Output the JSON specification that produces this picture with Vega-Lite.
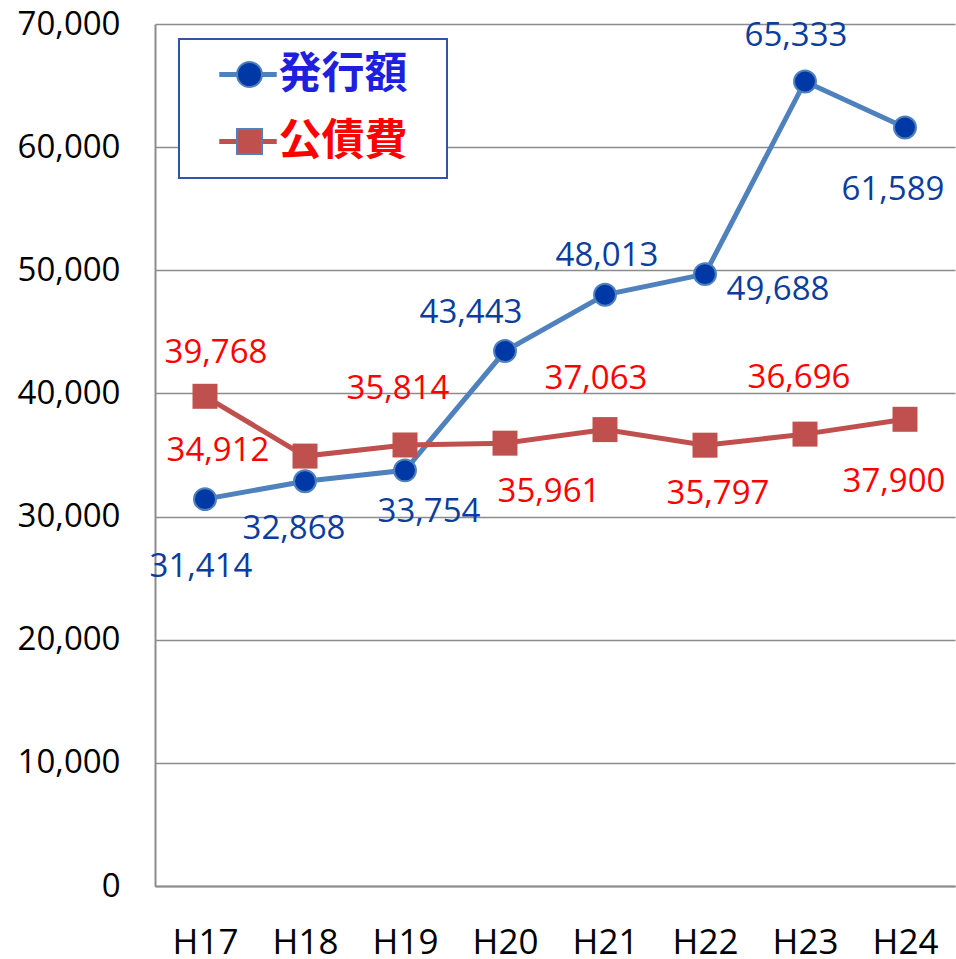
{
  "$schema": "https://vega.github.io/schema/vega-lite/v6.json",
  "width": 800,
  "height": 862,
  "autosize": {"type": "none"},
  "padding": {"left": 155, "top": 24, "right": 1, "bottom": 73},
  "background": "#ffffff",
  "config": {
    "view": {"stroke": null},
    "text": {"font": "Open Sans", "fontSize": 33, "align": "center", "baseline": "middle"},
    "axis": {"labelFont": "Open Sans", "labelColor": "#000000", "domainColor": "#8c8c8c", "domainWidth": 2, "ticks": false, "title": null}
  },
  "data": {
    "values": [
      {"year": "H17", "series": "発行額", "value": 31414},
      {"year": "H18", "series": "発行額", "value": 32868},
      {"year": "H19", "series": "発行額", "value": 33754},
      {"year": "H20", "series": "発行額", "value": 43443},
      {"year": "H21", "series": "発行額", "value": 48013},
      {"year": "H22", "series": "発行額", "value": 49688},
      {"year": "H23", "series": "発行額", "value": 65333},
      {"year": "H24", "series": "発行額", "value": 61589},
      {"year": "H17", "series": "公債費", "value": 39768},
      {"year": "H18", "series": "公債費", "value": 34912},
      {"year": "H19", "series": "公債費", "value": 35814},
      {"year": "H20", "series": "公債費", "value": 35961},
      {"year": "H21", "series": "公債費", "value": 37063},
      {"year": "H22", "series": "公債費", "value": 35797},
      {"year": "H23", "series": "公債費", "value": 36696},
      {"year": "H24", "series": "公債費", "value": 37900}
    ]
  },
  "encoding": {
    "x": {"field": "year", "type": "ordinal", "scale": {"type": "point", "padding": 0.5},
      "axis": {"labelFontSize": 35, "labelAngle": 0, "labelPadding": 39, "grid": false}},
    "y": {"field": "value", "type": "quantitative", "scale": {"domain": [0, 70000], "nice": false},
      "axis": {"values": [0, 10000, 20000, 30000, 40000, 50000, 60000, 70000], "labelExpr": "format(datum.value, ',')", "labelFontSize": 33, "labelPadding": 35, "grid": true, "gridColor": "#8c8c8c", "gridWidth": 1.5}}
  },
  "layer": [
    {
      "mark": {"type": "line", "strokeWidth": 5},
      "encoding": {
        "stroke": {"field": "series", "type": "nominal",
          "scale": {"domain": ["発行額", "公債費", "-"], "range": ["#4F81BD", "#C0504D", "#000000"]},
          "legend": {"title": ".", "titleOrient": "right", "titleOpacity": 0, "titleFontSize": 10, "titlePadding": 23,
            "orient": "none", "legendX": 24, "legendY": 15, "values": ["発行額", "公債費"],
            "padding": 14, "rowPadding": 23, "strokeColor": "#2F55A4", "fillColor": "#ffffff",
            "symbolType": "M-2.3,0H2.3", "symbolSize": 625, "symbolStrokeWidth": 5, "symbolOffset": 33.5,
            "labelOffset": 9, "labelFont": "Noto Sans CJK JP", "labelFontSize": 43, "labelFontWeight": "bold",
            "labelLimit": 400, "zindex": 1,
            "encode": {
              "legend": {"update": {"strokeWidth": {"value": 2}}},
              "labels": {"update": {
                "fill": {"signal": "datum.value === '発行額' ? '#1F1FE0' : '#FF0000'"}}}
            }}
        }
      }
    },
    {
      "mark": {"type": "point", "filled": true, "opacity": 1, "stroke": "#4F81BD"},
      "encoding": {
        "fill": {"field": "series", "type": "nominal",
          "scale": {"domain": ["発行額", "公債費"], "range": ["#0039A6", "#C0504D"]},
          "legend": {"title": null, "orient": "none", "legendX": 24, "legendY": 15,
            "padding": 14, "rowPadding": 23, "symbolSize": 625, "symbolStrokeWidth": 2, "symbolOffset": 35,
            "labelFont": "Noto Sans CJK JP", "labelFontSize": 43, "labelFontWeight": "bold", "labelOpacity": 0, "zindex": 2,
            "encode": {"symbols": {"update": {
              "stroke": {"signal": "datum.value === '発行額' ? '#4F81BD' : '#C0504D'"},
              "strokeWidth": {"signal": "datum.value === '発行額' ? 2 : 0"},
              "opacity": {"value": 1}}}}}},
        "shape": {"field": "series", "type": "nominal",
          "scale": {"domain": ["発行額", "公債費"], "range": ["circle", "square"]},
          "legend": {"title": null, "orient": "none", "legendX": 24, "legendY": 15,
            "padding": 14, "rowPadding": 23, "symbolSize": 625, "symbolStrokeWidth": 2, "symbolOffset": 35,
            "labelFont": "Noto Sans CJK JP", "labelFontSize": 43, "labelFontWeight": "bold", "labelOpacity": 0, "zindex": 2,
            "encode": {"symbols": {"update": {
              "stroke": {"signal": "datum.value === '発行額' ? '#4F81BD' : '#C0504D'"},
              "strokeWidth": {"signal": "datum.value === '発行額' ? 2 : 0"},
              "opacity": {"value": 1}}}}}},
        "size": {"condition": {"test": "datum.series === '発行額'", "value": 480}, "value": 625},
        "strokeWidth": {"condition": {"test": "datum.series === '発行額'", "value": 2}, "value": 0}
      }
    },
    {"transform": [{"filter": "datum.year === 'H17' && datum.series === '発行額'"}], "mark": {"type": "text", "dx": -4, "dy": 68, "color": "#0B3D9E"}, "encoding": {"text": {"field": "value", "format": ","}}},
    {"transform": [{"filter": "datum.year === 'H18' && datum.series === '発行額'"}], "mark": {"type": "text", "dx": -11, "dy": 48, "color": "#0B3D9E"}, "encoding": {"text": {"field": "value", "format": ","}}},
    {"transform": [{"filter": "datum.year === 'H19' && datum.series === '発行額'"}], "mark": {"type": "text", "dx": 24, "dy": 42, "color": "#0B3D9E"}, "encoding": {"text": {"field": "value", "format": ","}}},
    {"transform": [{"filter": "datum.year === 'H20' && datum.series === '発行額'"}], "mark": {"type": "text", "dx": -34, "dy": -38, "color": "#0B3D9E"}, "encoding": {"text": {"field": "value", "format": ","}}},
    {"transform": [{"filter": "datum.year === 'H21' && datum.series === '発行額'"}], "mark": {"type": "text", "dx": 2, "dy": -39, "color": "#0B3D9E"}, "encoding": {"text": {"field": "value", "format": ","}}},
    {"transform": [{"filter": "datum.year === 'H22' && datum.series === '発行額'"}], "mark": {"type": "text", "dx": 73, "dy": 16, "color": "#0B3D9E"}, "encoding": {"text": {"field": "value", "format": ","}}},
    {"transform": [{"filter": "datum.year === 'H23' && datum.series === '発行額'"}], "mark": {"type": "text", "dx": -9, "dy": -45, "color": "#0B3D9E"}, "encoding": {"text": {"field": "value", "format": ","}}},
    {"transform": [{"filter": "datum.year === 'H24' && datum.series === '発行額'"}], "mark": {"type": "text", "dx": -12, "dy": 62, "color": "#0B3D9E"}, "encoding": {"text": {"field": "value", "format": ","}}},
    {"transform": [{"filter": "datum.year === 'H17' && datum.series === '公債費'"}], "mark": {"type": "text", "dx": 11, "dy": -43, "color": "#FF0000"}, "encoding": {"text": {"field": "value", "format": ","}}},
    {"transform": [{"filter": "datum.year === 'H18' && datum.series === '公債費'"}], "mark": {"type": "text", "dx": -87, "dy": -5, "color": "#FF0000"}, "encoding": {"text": {"field": "value", "format": ","}}},
    {"transform": [{"filter": "datum.year === 'H19' && datum.series === '公債費'"}], "mark": {"type": "text", "dx": -7, "dy": -56, "color": "#FF0000"}, "encoding": {"text": {"field": "value", "format": ","}}},
    {"transform": [{"filter": "datum.year === 'H20' && datum.series === '公債費'"}], "mark": {"type": "text", "dx": 44, "dy": 49, "color": "#FF0000"}, "encoding": {"text": {"field": "value", "format": ","}}},
    {"transform": [{"filter": "datum.year === 'H21' && datum.series === '公債費'"}], "mark": {"type": "text", "dx": -9, "dy": -51, "color": "#FF0000"}, "encoding": {"text": {"field": "value", "format": ","}}},
    {"transform": [{"filter": "datum.year === 'H22' && datum.series === '公債費'"}], "mark": {"type": "text", "dx": 13, "dy": 49, "color": "#FF0000"}, "encoding": {"text": {"field": "value", "format": ","}}},
    {"transform": [{"filter": "datum.year === 'H23' && datum.series === '公債費'"}], "mark": {"type": "text", "dx": -6, "dy": -56, "color": "#FF0000"}, "encoding": {"text": {"field": "value", "format": ","}}},
    {"transform": [{"filter": "datum.year === 'H24' && datum.series === '公債費'"}], "mark": {"type": "text", "dx": -11, "dy": 63, "color": "#FF0000"}, "encoding": {"text": {"field": "value", "format": ","}}}
  ]
}
